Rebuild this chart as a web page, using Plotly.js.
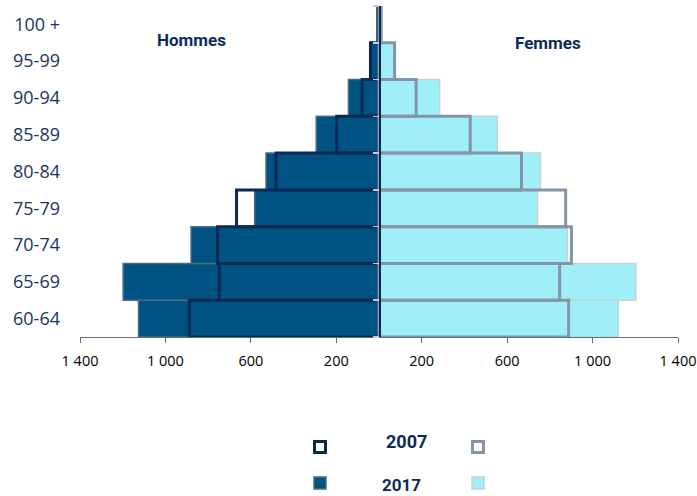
<!DOCTYPE html>
<html>
<head>
<meta charset="utf-8">
<script src="https://cdn.plot.ly/plotly-3.0.1.min.js"></script>
<style>html,body{margin:0;padding:0;background:#fff;}#chart{width:697px;height:496px;}</style>
</head>
<body>
<div id="chart"></div>
<script>
// Age groups, bottom to top
const ageGroups = ['60-64', '65-69', '70-74', '75-79', '80-84', '85-89', '90-94', '95-99', '100 +'];
// Men (Hommes)
const men2017 = [1126, 1198, 880, 582, 529, 294, 143, 42, 9];
const men2007 = [888, 748, 756, 667, 482, 198, 79, 40, 5];
// Women (Femmes)
const women2017 = [1120, 1203, 882, 742, 756, 554, 284, 70, 12];
const women2007 = [888, 846, 901, 874, 667, 427, 174, 73, 10];
// X axis ticks
const xTickVals = [-1400, -1000, -600, -200, 200, 600, 1000, 1400];
const xTickText = ['1 400', '1 000', '600', '200', '200', '600', '1 000', '1 400'];
const legendYears = ['2007', '2017'];

const W = 697, H = 496, L = 80, R = 19, T = 6, B = 159;
const pw = W - L - R, ph = H - T - B;
const px = x => (x - L) / pw;
const py = y => (H - B - y) / ph;

const neg = a => a.map(v => -v);

const traces = [
  {type: 'bar', orientation: 'h', y: ageGroups, x: neg(men2017), yaxis: 'y',
   marker: {color: '#005282', line: {color: '#4d6b88', width: 1.5}}},
  {type: 'bar', orientation: 'h', y: ageGroups, x: women2017, yaxis: 'y',
   marker: {color: '#a0eef7', line: {color: '#c6d2d4', width: 1.5}}},
  {type: 'bar', orientation: 'h', y: ageGroups, x: neg(men2007), yaxis: 'y2',
   marker: {color: 'rgba(0,0,0,0)', line: {color: '#0b2856', width: 3}}},
  {type: 'bar', orientation: 'h', y: ageGroups, x: women2007, yaxis: 'y2',
   marker: {color: 'rgba(0,0,0,0)', line: {color: '#8495a6', width: 3}}}
];

const catAxis = {
  type: 'category', categoryorder: 'array', categoryarray: ageGroups,
  range: [-0.5, ageGroups.length - 0.5], fixedrange: true
};

function sq(cx, cy, s, fill, line, lw) {
  return {type: 'rect', xref: 'paper', yref: 'paper',
    x0: px(cx - s / 2), x1: px(cx + s / 2), y0: py(cy + s / 2), y1: py(cy - s / 2),
    fillcolor: fill, line: {color: line, width: lw}};
}

const layout = {
  width: W, height: H,
  margin: {l: L, r: R, t: T, b: B, pad: 0},
  paper_bgcolor: '#ffffff', plot_bgcolor: '#ffffff',
  barmode: 'overlay', bargap: 0,
  showlegend: false,
  font: {family: 'Open Sans, sans-serif', color: '#1f3864'},
  xaxis: {
    range: [-1400, 1400], tickvals: xTickVals, ticktext: xTickText,
    showgrid: false, zeroline: false,
    showline: true, linecolor: '#5d6e84', linewidth: 1,
    ticks: 'outside', ticklen: 5, tickcolor: '#5d6e84', tickwidth: 1,
    ticklabelstandoff: 6,
    tickfont: {family: 'Open Sans, sans-serif', size: 14.5, color: '#000000'},
    fixedrange: true
  },
  yaxis: Object.assign({}, catAxis, {
    showgrid: false, zeroline: false, showline: false, ticks: '',
    ticklabelstandoff: 19,
    tickfont: {family: 'Open Sans, sans-serif', size: 18, color: '#1a3461'}
  }),
  yaxis2: Object.assign({}, catAxis, {
    overlaying: 'y', anchor: 'free', position: 0.5, side: 'left',
    showgrid: false, zeroline: false, showticklabels: false,
    showline: true, linecolor: '#0b2856', linewidth: 1.5,
    ticks: 'outside', tickson: 'boundaries', ticklen: 6, tickwidth: 1.5, tickcolor: '#c7ccd3'
  }),
  annotations: [
    {xref: 'paper', yref: 'paper', x: px(191), y: py(40), text: '<b>Hommes</b>', showarrow: false,
     xanchor: 'center', yanchor: 'middle', font: {family: 'Roboto, sans-serif', size: 17, color: '#0d2b5a'}},
    {xref: 'paper', yref: 'paper', x: px(548), y: py(43), text: '<b>Femmes</b>', showarrow: false,
     xanchor: 'center', yanchor: 'middle', font: {family: 'Roboto, sans-serif', size: 17, color: '#0d2b5a'}},
    {xref: 'paper', yref: 'paper', x: px(406), y: py(441), text: '<b>' + legendYears[0] + '</b>', showarrow: false,
     xanchor: 'center', yanchor: 'middle', font: {family: 'Roboto, sans-serif', size: 18, color: '#0d2b5a'}},
    {xref: 'paper', yref: 'paper', x: px(401), y: py(485), text: '<b>' + legendYears[1] + '</b>', showarrow: false,
     xanchor: 'center', yanchor: 'middle', font: {family: 'Roboto, sans-serif', size: 17, color: '#0d2b5a'}}
  ],
  shapes: [
    sq(320, 447, 11, 'rgba(0,0,0,0)', '#0b2856', 3),
    sq(478, 447, 11, 'rgba(0,0,0,0)', '#8495a6', 3),
    sq(320, 483, 12, '#005282', '#4d6b88', 1.5),
    sq(478, 483, 12, '#a0eef7', '#c6d2d4', 1.5)
  ]
};

Plotly.newPlot('chart', traces, layout, {staticPlot: true, displayModeBar: false});
</script>
</body>
</html>
